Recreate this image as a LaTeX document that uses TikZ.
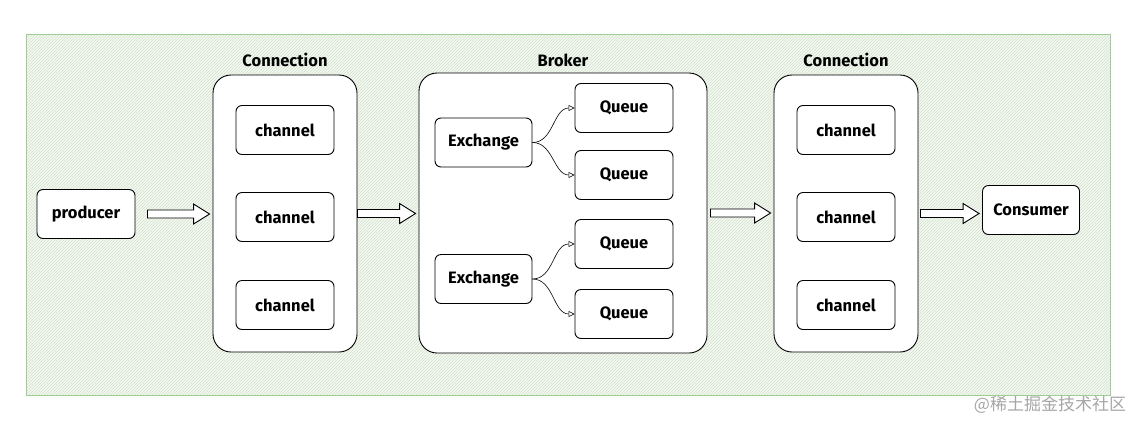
\documentclass[tikz,border=0pt]{standalone}
\usepackage{fontspec}
\setmainfont{Fira Sans}
\newfontfamily\cjk{Noto Sans CJK SC}
\usetikzlibrary{shapes,arrows.meta,positioning,calc,patterns}
\definecolor{framegreen}{RGB}{160,205,150}
\definecolor{bggreen}{RGB}{245,249,242}
\definecolor{hatch}{RGB}{208,224,202}

% fat hollow arrow between two nodes
\newcommand{\fatarrow}[3][2]{%
  \draw[fill=white] let \p1=($(#2.east)+(#1pt,0)$), \p2=($(#3.west)+(-3pt,0)$) in
    (\x1,\y1+4pt) -- (\x2-16pt,\y1+4pt) -- (\x2-16pt,\y1+10pt) -- (\x2,\y1)
    -- (\x2-16pt,\y1-10pt) -- (\x2-16pt,\y1-4pt) -- (\x1,\y1-4pt) -- cycle;}

\begin{document}
\begin{tikzpicture}[x=1pt, y=-1pt, line width=0.9pt, font=\fontsize{16.5}{18}\selectfont\bfseries]
        \tikzstyle{box}=[draw=black, fill=white, rounded corners=6pt, minimum width=98pt, minimum height=49pt, inner sep=0pt]
        \tikzstyle{group}=[draw=black, fill=white, rounded corners=18pt, inner sep=0pt]
        \tikzstyle{title}=[inner sep=0pt]
        \tikzstyle{flow}=[-{Triangle[open, length=6pt, width=6pt]}, line width=0.6pt]

        \useasboundingbox (0,0) rectangle (1137,421);
        \fill[bggreen] (26,34) rectangle (1110,395);
        \fill[pattern=north east lines, pattern color=hatch] (26,34) rectangle (1110,395);
        \draw[framegreen] (26,34) rectangle (1110,395);

        \node[group, minimum width=144pt, minimum height=277pt] (conn1)  at (285,213.5) {};
        \node[group, minimum width=288pt, minimum height=280pt] (broker) at (563,213)   {};
        \node[group, minimum width=144pt, minimum height=277pt] (conn2)  at (846,213.5) {};
        \node[title, above=7pt of conn1]  {Connection};
        \node[title, above=5pt of broker] {Broker};
        \node[title, above=7pt of conn2]  {Connection};

        \node[box] (prod) at (86,214)   {producer};
        \node[box, minimum width=97pt] (cons) at (1031,210) {Consumer};

        \node[box] (ch1a) at (285,130) {channel};
        \node[box] (ch1b) at (285,217) {channel};
        \node[box] (ch1c) at (285,305) {channel};
        \node[box] (ch2a) at (846,130) {channel};
        \node[box] (ch2b) at (846,217) {channel};
        \node[box] (ch2c) at (846,305) {channel};

        \node[box, minimum width=97pt] (ex1) at (483.5,142.5) {Exchange};
        \node[box, minimum width=97pt] (ex2) at (483.5,279)   {Exchange};
        \node[box] (q1) at (624,108) {Queue};
        \node[box] (q2) at (624,175) {Queue};
        \node[box] (q3) at (624,244) {Queue};
        \node[box] (q4) at (624,314) {Queue};

        \path[flow]
        (ex1.east) edge[out=0, in=180] (q1.west)
                   edge[out=0, in=180] (q2.west)
        (ex2.east) edge[out=0, in=180] (q3.west)
                   edge[out=0, in=180] (q4.west);

        \fatarrow[12]{prod}{conn1}
        \fatarrow[0]{conn1}{broker}
        \fatarrow[3]{broker}{conn2}
        \fatarrow[2]{conn2}{cons}

        \node[text=black!35, font=\cjk\fontsize{17}{18}\selectfont] (mark) at (1050,405) {@稀土掘金技术社区};
    \end{tikzpicture}
\end{document}
